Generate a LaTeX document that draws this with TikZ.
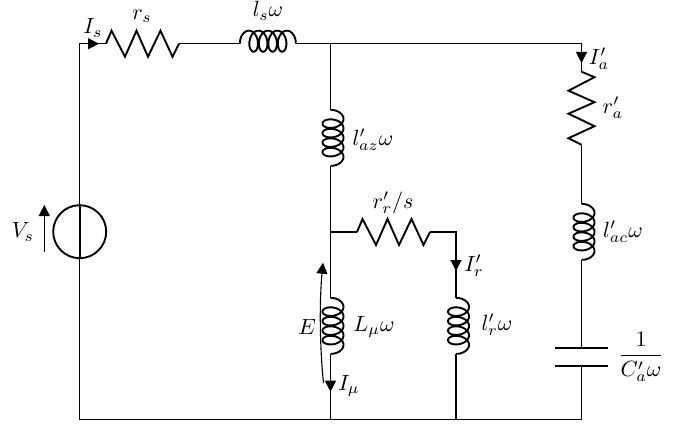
\documentclass[tikz,border=0pt]{standalone}
\usetikzlibrary{arrows.meta}
\tikzset{
  wire/.style={line width=1.1pt,black},
  part/.style={line width=1.9pt,black,line join=miter},
  head/.style={line width=1.1pt,-{Triangle[length=11pt,width=11pt]}},
  lbl/.style={inner sep=0pt,scale=2.2},
  resistor/.pic={\draw[part] (0,0)--(5.5,-13)--(19,13)--(30.5,-13)--(42,13)--(54.5,-13)--(66.5,13)--(73,0);},
  coilpart/.pic={\draw[part] (0,0)--(0,-2.5) plot[samples=220,domain=0:1620,variable=\t]
     ({6.5-6.5*cos(\t)+9.5*\t/360},{-2.5-10.5*sin(\t)}) --(55.7,0);}
}
\begin{document}
\begin{tikzpicture}[x=1pt,y=-1pt]
\useasboundingbox (0,0) rectangle (679,428);
% corners and junctions
\coordinate (tl) at (79.7,43.7);
\coordinate (bl) at (79.7,419.3);
\coordinate (tm) at (330.5,43.7);
\coordinate (tr) at (581.5,43.7);
\coordinate (mj) at (330.5,232);
\coordinate (rj) at (456,232);
\coordinate (bm) at (330.5,419.3);
\coordinate (br) at (581.5,419.3);
\coordinate (bj) at (456,419.3);
% component terminals
\coordinate (rsA) at (106,43.7); \coordinate (rsB) at (179,43.7);
\coordinate (lsA) at (240,43.7); \coordinate (lsB) at (295.7,43.7);
\coordinate (azA) at (330.5,110); \coordinate (azB) at (330.5,165.7);
\coordinate (rrA) at (357,232); \coordinate (rrB) at (430,232);
\coordinate (muA) at (330.5,298); \coordinate (muB) at (330.5,353.7);
\coordinate (lrA) at (456,298); \coordinate (lrB) at (456,353.7);
\coordinate (raA) at (581.5,71.7); \coordinate (raB) at (581.5,144.7);
\coordinate (acA) at (581.5,204); \coordinate (acB) at (581.5,259.7);
\coordinate (cA) at (581.5,348.3); \coordinate (cB) at (581.5,366);
\coordinate (cAl) at (555,348.3); \coordinate (cAr) at (607.7,348.3);
\coordinate (cBl) at (555,366); \coordinate (cBr) at (607.7,366);
% wires
\draw[wire] (rsA)--(tl)--(bl)--(br)--(cB);
\draw[wire] (rsB)--(lsA);
\draw[wire] (lsB)--(tm)--(tr)--(raA);
\draw[wire] (tm)--(azA);
\draw[wire] (azB)--(mj)--(muA);
\draw[wire] (mj)--(rrA);
\draw[wire] (rrB)--(rj)--(lrA);
\draw[wire] (muB)--(bm);
\draw[wire] (lrB)--(bj);
\draw[wire] (raB)--(acA);
\draw[wire] (acB)--(cA);
% components
\pic at (rsA) {resistor};
\pic at (rrA) {resistor};
\pic[rotate=-90] at (raA) {resistor};
\pic at (lsA) {coilpart};
\pic[rotate=-90] at (azA) {coilpart};
\pic[rotate=-90] at (muA) {coilpart};
\pic[rotate=-90] at (lrA) {coilpart};
\pic[rotate=-90] at (acA) {coilpart};
\draw[part] (cAl)--(cAr);
\draw[part] (cBl)--(cBr);
\node[draw,circle,line width=1.9pt,minimum size=53pt,inner sep=0pt] (src) at (79.7,231.7) {};
\draw[line width=1.6pt,black] (src.north)--(src.south);
% arrows
\coordinate (isA) at (85,43.7); \coordinate (isB) at (99,43.7);
\coordinate (iaA) at (581.5,48); \coordinate (iaB) at (581.5,63);
\coordinate (irA) at (456,255); \coordinate (irB) at (456,271);
\coordinate (imA) at (330.5,375); \coordinate (imB) at (330.5,391.7);
\coordinate (vsA) at (44.3,251.7); \coordinate (vsB) at (44.3,205);
\coordinate (eA) at (323.5,383); \coordinate (eB) at (323,262.7);
\draw[head] (isA)--(isB);
\draw[head] (iaA)--(iaB);
\draw[head] (irA)--(irB);
\draw[head] (imA)--(imB);
\draw[head] (vsA)--(vsB);
\draw[head] (eA) .. controls (319.5,345) and (319.5,300) .. (eB);
% labels
\node[lbl] (tIs) at (93,28) {$I_s$};
\node[lbl] (trs) at (142,16) {$r_s$};
\node[lbl] (tls) at (268,11) {$l_s\omega$};
\node[lbl] (tIa) at (599,59) {$I'_a$};
\node[lbl] (tra) at (613,108) {$r'_a$};
\node[lbl] (taz) at (373,140) {$l'_{az}\omega$};
\node[lbl] (trr) at (393,203) {$r'_r/s$};
\node[lbl] (tIr) at (474,266) {$I'_r$};
\node[lbl] (tac) at (623,232) {$l'_{ac}\omega$};
\node[lbl] (tV) at (23,232) {$V_s$};
\node[lbl] (tE) at (307,327) {$E$};
\node[lbl] (tLm) at (374,327) {$L_\mu\omega$};
\node[lbl] (tlr) at (497,325) {$l'_r\omega$};
\node[lbl] (tIm) at (349,386) {$I_\mu$};
\node[lbl] (tC) at (641,357) {$\displaystyle\frac{1}{C'_a\omega}$};
\end{tikzpicture}
\end{document}
